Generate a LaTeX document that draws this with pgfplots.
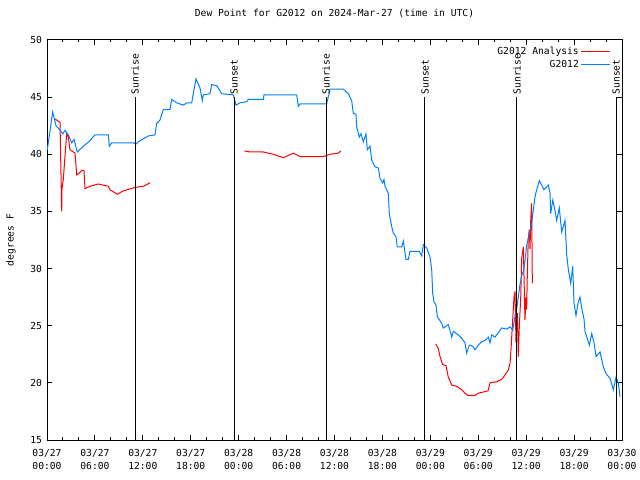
\documentclass[border=0pt]{standalone}
\usepackage{fontspec}
\setmainfont{DejaVu Sans Mono}
\usepackage{pgfplots}
\pgfplotsset{compat=1.18}
\definecolor{gblue}{RGB}{0,128,255}
\definecolor{gred}{RGB}{255,0,0}
\newcommand\gf{\fontsize{9.7}{13}\selectfont}
\pgfplotsset{
  /pgfplots/legend image code/.code={\draw[#1] (0bp,0bp) -- (29bp,0bp);},
}
\begin{document}
\begin{tikzpicture}
\path[use as bounding box] (0,0) rectangle (640bp,480bp);
\begin{axis}[
  at={(47bp,40bp)}, anchor=south west,
  scale only axis, width=575bp, height=400bp,
  xmin=0, xmax=72, ymin=15, ymax=50,
  axis line style={line width=1bp},
  xtick={0,6,...,72},
  minor xtick={2,4,8,10,14,16,20,22,26,28,32,34,38,40,44,46,50,52,56,58,62,64,68,70},
  xticklabels={03/27\\00:00,03/27\\06:00,03/27\\12:00,03/27\\18:00,03/28\\00:00,03/28\\06:00,03/28\\12:00,03/28\\18:00,03/29\\00:00,03/29\\06:00,03/29\\12:00,03/29\\18:00,03/30\\00:00},
  ytick={15,20,...,50},
  tick align=inside,
  major tick length=5bp, minor tick length=2.5bp,
  every tick/.style={black, line width=1bp},
  tick pos=both,
  /pgf/number format/assume math mode=true,
  xticklabel style={align=center, font=\gf, yshift=-6bp},
  yticklabel style={font=\gf, xshift=-1.5bp},
  title={Dew Point for G2012 on 2024-Mar-27 (time in UTC)},
  title style={font=\gf, at={(axis description cs:0.5,1)}, anchor=center, yshift=21bp},
  ylabel={degrees F},
  ylabel style={font=\gf, at={(axis description cs:-0.0626,0.5)}, anchor=center},
  legend style={draw=none, fill=none, font=\gf, at={(1,1)}, anchor=north east, xshift=-8bp, yshift=-3bp, row sep=0bp, legend cell align=right},
  legend plot pos=right,
  clip=false,
]
\addplot[gred, line width=1bp] table {
1.00 43.1
1.38 42.9
1.63 42.8
1.84 35.0
1.88 37.0
2.04 37.8
2.25 39.8
2.47 41.8
2.67 41.5
2.88 40.4
3.51 40.1
3.72 38.2
4.13 38.4
4.35 38.6
4.63 38.6
4.76 37.0
5.38 37.2
6.42 37.4
7.68 37.2
7.89 36.9
8.80 36.5
9.55 36.8
11.02 37.1
12.06 37.2
12.90 37.5
};
\addlegendentry{G2012 Analysis}
\addplot[gred, line width=1bp, forget plot] table {
24.71 40.3
25.42 40.2
27.09 40.2
28.34 40.0
29.59 39.7
30.84 40.1
31.68 39.8
34.60 39.8
35.44 40.0
36.48 40.1
36.81 40.3
};
\addplot[gred, line width=1bp, forget plot] table {
48.67 23.4
49.00 23.0
49.21 22.3
49.55 21.6
49.96 21.5
50.25 20.5
50.68 19.8
51.30 19.7
51.93 19.4
52.34 19.1
52.68 18.9
53.59 18.9
54.01 19.1
54.64 19.2
55.22 19.3
55.47 20.0
56.31 20.1
56.94 20.3
57.35 20.7
57.76 21.1
57.98 21.7
58.10 22.9
58.31 25.5
58.48 27.5
58.60 28.0
58.73 23.5
58.89 26.1
59.02 22.3
59.14 24.9
59.32 27.5
59.44 30.9
59.65 31.9
59.72 29.6
59.85 25.5
59.98 27.5
60.06 26.4
60.14 29.3
60.26 32.6
60.39 33.4
60.48 31.7
60.57 34.2
60.69 35.7
60.77 28.7
};
\addplot[gblue, line width=1bp] table {
0.04 40.4
0.71 43.7
1.13 42.5
1.63 42.1
2.00 41.8
2.25 42.1
2.67 41.7
3.09 41.0
3.38 41.3
3.79 40.2
4.55 40.7
5.38 41.2
6.01 41.7
7.68 41.7
7.80 40.7
8.10 41.0
10.81 41.0
11.14 40.9
11.65 41.2
12.68 41.6
13.52 41.7
13.74 42.7
14.15 43.0
14.56 43.9
15.40 43.9
15.61 44.8
16.24 44.5
17.07 44.3
17.49 44.5
18.12 44.5
18.32 45.3
18.66 46.6
19.16 45.8
19.45 44.7
19.57 45.2
20.41 45.3
20.62 46.1
21.25 46.0
21.88 45.3
23.33 45.2
23.67 44.3
24.17 44.5
25.01 44.6
25.21 44.8
27.09 44.8
27.17 45.2
31.27 45.2
31.47 44.2
31.68 44.4
35.02 44.4
35.44 45.7
37.10 45.7
37.73 45.3
38.15 44.7
38.35 43.6
38.69 43.5
38.78 42.4
39.11 41.5
39.32 41.8
39.61 41.1
39.94 41.8
40.11 40.4
40.45 40.7
40.66 39.5
41.07 38.9
41.49 38.8
41.70 37.9
42.04 37.5
42.20 37.8
42.32 37.2
42.74 36.6
42.86 34.8
43.16 33.7
43.36 33.1
43.70 32.8
43.86 31.9
44.42 31.9
44.62 32.4
44.95 30.8
45.24 30.8
45.45 31.5
46.62 31.5
46.92 31.1
47.12 32.1
47.55 31.8
47.96 31.0
48.17 29.9
48.30 27.8
48.46 27.1
48.71 26.8
48.87 25.8
49.42 25.2
49.62 24.8
50.25 25.1
50.46 24.6
50.68 24.0
50.88 24.5
51.50 24.2
51.93 23.9
52.34 23.5
52.55 22.6
52.88 23.3
53.31 23.2
53.59 22.9
54.01 23.3
54.43 23.6
54.85 23.7
55.26 24.0
55.47 23.5
55.69 24.2
56.10 24.0
56.94 24.8
57.56 24.7
57.98 24.9
58.31 24.6
58.60 25.8
58.81 26.4
59.01 27.5
59.23 28.6
59.44 29.4
59.72 29.9
60.06 32.0
60.48 33.3
60.69 34.0
60.89 35.1
61.11 36.3
61.32 36.9
61.65 37.7
61.95 37.3
62.23 36.9
62.77 37.3
62.99 36.6
63.07 34.8
63.33 36.0
63.61 35.1
63.82 34.2
64.15 35.3
64.45 33.2
64.86 34.2
65.08 31.2
65.28 29.9
65.58 28.7
65.83 30.2
65.99 27.0
66.24 25.9
66.53 27.1
66.74 27.5
66.96 26.5
67.24 25.6
67.37 24.5
67.91 23.3
68.21 24.3
68.50 23.5
68.75 22.3
69.25 22.7
69.66 21.4
70.00 20.8
70.50 20.4
70.91 19.4
71.25 20.5
71.54 20.0
71.75 18.8
};
\addlegendentry{G2012}
% sunrise / sunset markers
\addplot[black, line width=1bp, forget plot] coordinates {(11.02,15) (11.02,45)};
\addplot[black, line width=1bp, forget plot] coordinates {(23.42,15) (23.42,45)};
\addplot[black, line width=1bp, forget plot] coordinates {(34.94,15) (34.94,45)};
\addplot[black, line width=1bp, forget plot] coordinates {(47.33,15) (47.33,45)};
\addplot[black, line width=1bp, forget plot] coordinates {(58.85,15) (58.85,45)};
\addplot[black, line width=1bp, forget plot] coordinates {(71.25,15) (71.25,45)};
\node[font=\gf, rotate=90, anchor=west, inner sep=2.5bp] at (axis cs:11.02,45) {Sunrise};
\node[font=\gf, rotate=90, anchor=west, inner sep=2.5bp] at (axis cs:23.42,45) {Sunset};
\node[font=\gf, rotate=90, anchor=west, inner sep=2.5bp] at (axis cs:34.94,45) {Sunrise};
\node[font=\gf, rotate=90, anchor=west, inner sep=2.5bp] at (axis cs:47.33,45) {Sunset};
\node[font=\gf, rotate=90, anchor=west, inner sep=2.5bp] at (axis cs:58.85,45) {Sunrise};
\node[font=\gf, rotate=90, anchor=west, inner sep=2.5bp] at (axis cs:71.25,45) {Sunset};
\end{axis}
\end{tikzpicture}
\end{document}
